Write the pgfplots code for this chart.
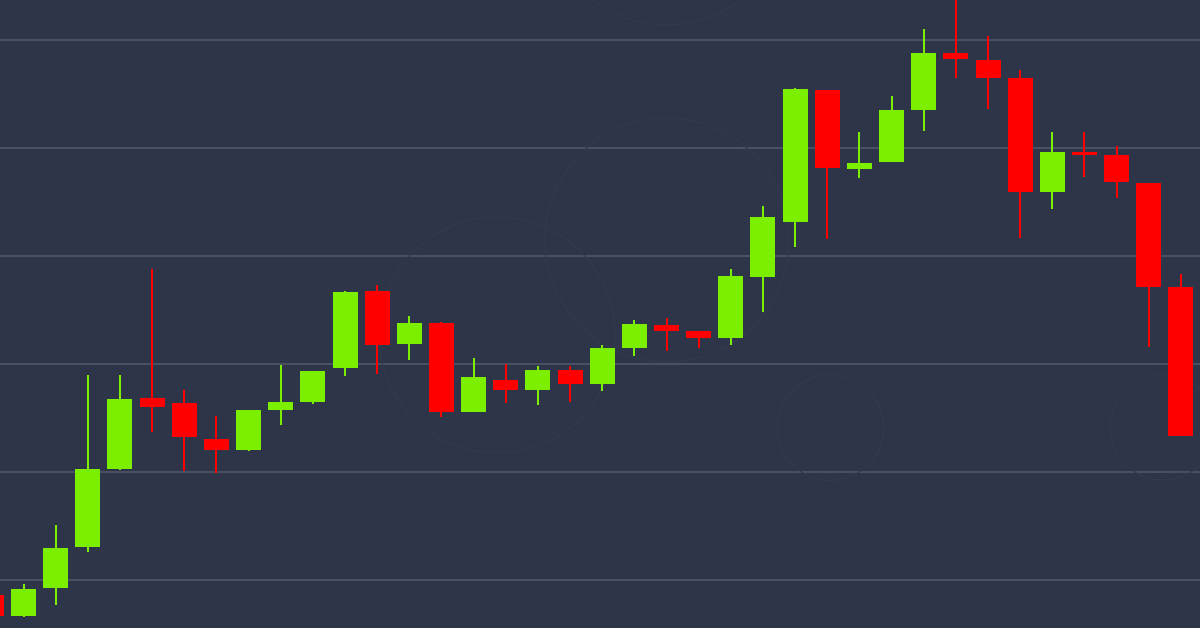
\documentclass[border=0pt]{standalone}
\usepackage{pgfplots}
\usepackage{pgfplotstable}
\pgfplotsset{compat=1.18}
\definecolor{bg}{RGB}{46,53,72}
\definecolor{gridc}{RGB}{72,80,99}
\definecolor{ring}{RGB}{51,58,77}
\definecolor{cgreen}{RGB}{124,238,0}
\definecolor{cred}{RGB}{255,0,0}

% candle index, open, high, low, close
\pgfplotstableread{
i  o     h     l     c
1  12    44    11    39.3
2  39.7  103   23    80.3
3  80.7  253   75.7  158.7
4  158.7 253   158   228.7
8  177.7 217.7 177   217.7
9  218   262.7 202.7 225.7
10 226   257   223.7 256.7
11 259.7 337   252   336
13 283.7 312   267.7 305.3
15 216.3 270   216   250.7
17 238   262.3 222.7 257.7
19 243.7 282.7 236.7 279.7
20 280.3 307.7 272.3 304.3
23 289.7 358.7 283   352.3
24 351.3 422   315.7 411.3
25 406.3 540   381   538.7
27 459.3 496.3 450.3 465
28 465.7 531.7 465.7 517.7
29 518   598.7 497.3 575
33 435.7 496   419.3 476
}\greenc

\pgfplotstableread{
i  o     h     l     c
0  33    35    10    12
5  230   358.7 196.3 221.3
6  225   238   157   191.3
7  189.3 212   155.3 177.7
12 337.3 343   254   283.3
14 305.3 306   211   216
16 248   264.3 224.7 238
18 258   262.3 225.7 244
21 302.7 310.3 276.7 297.3
22 296.7 297   279.7 289.7
26 538.3 538.3 388.7 459.7
30 574.7 633   549.7 568.7
31 568.3 592   519.3 550.3
32 550   558   390.3 435.7
34 476   496   451.3 473
35 472.7 482.3 430.3 445.7
36 445.3 445.3 281.3 341
37 341.3 353.7 192.3 192.3
}\redc

\pgfplotsset{
  candle/.style 2 args={only marks, mark size=0pt,
    mark options={draw=none, fill=none, opacity=0}, forget plot,
    error bars/.cd, y dir=plus, y explicit, error mark=none,
    error bar style={line width=#1, #2}},
}

\begin{document}
\begin{tikzpicture}
\begin{axis}[
  scale only axis, width=1200pt, height=628pt,
  xmin=0.269, xmax=37.594, ymin=0, ymax=628,
  axis background/.style={fill=bg},
  axis line style={draw=none},
  xtick=\empty, ytick={48,156,264,372,480,588},
  yticklabels={}, major tick length=0pt,
  ymajorgrids, grid style={gridc, line width=1.6pt},
  clip=true,
]
\coordinate (sw) at (rel axis cs:0,0);
\coordinate (ne) at (rel axis cs:1,1);
% faint decorative rings
\draw[ring, line width=1pt] (axis cs:21.01,388) circle[radius=122pt];
\draw[ring, line width=1pt] (axis cs:15.73,293) circle[radius=118pt];
\draw[ring, line width=1pt] (axis cs:21.01,725) circle[radius=122pt];
\draw[ring, line width=1pt] (axis cs:26.10,200.5) circle[radius=53pt];
\draw[ring, line width=1pt] (axis cs:36.44,201) circle[radius=53pt];

% wicks
\addplot[candle={2pt}{cgreen}]
  table[x=i, y=l, y error expr=\thisrow{h}-\thisrow{l}] {\greenc};
\addplot[candle={2pt}{cred}]
  table[x=i, y=l, y error expr=\thisrow{h}-\thisrow{l}] {\redc};
% bodies
\addplot[candle={25pt}{cgreen}]
  table[x=i, y expr={min(\thisrow{o},\thisrow{c})}, y error expr={abs(\thisrow{c}-\thisrow{o})}] {\greenc};
\addplot[candle={25pt}{cred}]
  table[x=i, y expr={min(\thisrow{o},\thisrow{c})}, y error expr={abs(\thisrow{c}-\thisrow{o})}] {\redc};
\end{axis}
\pgfresetboundingbox
\path (sw) rectangle (ne);
\end{tikzpicture}
\end{document}
